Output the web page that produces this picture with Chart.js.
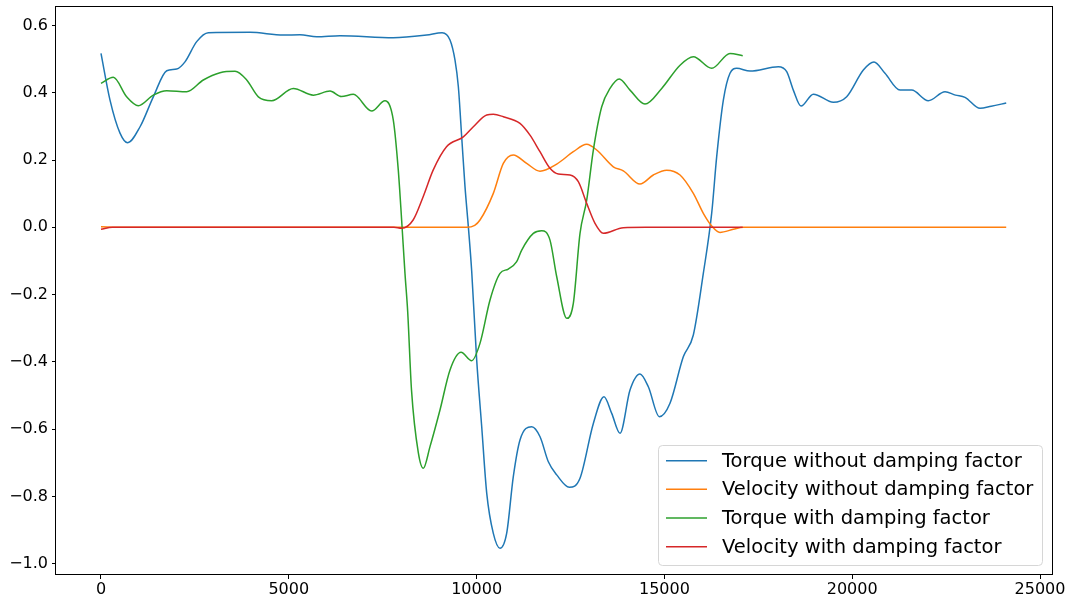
<!DOCTYPE html>
<html><head><meta charset="utf-8">
<script src="https://cdn.jsdelivr.net/npm/chart.js@4/dist/chart.umd.min.js"></script>
<style>html,body{margin:0;padding:0;background:#fff}#wrap{width:1075px;height:603px;position:relative}</style>
</head><body><div id="wrap"><canvas id="c"></canvas></div>
<script>
const seriesLabels = ["Torque without damping factor","Velocity without damping factor","Torque with damping factor","Velocity with damping factor"];
const seriesColors = ["#1f77b4","#ff7f0e","#2ca02c","#d62728"];
const xTickValues = [0,5000,10000,15000,20000,25000];
const yTickValues = [-1.0,-0.8,-0.6,-0.4,-0.2,0.0,0.2,0.4,0.6];

const torqueNoDamping = [[0,0.517],[240,0.378],[506,0.28],[710,0.2515],[1040,0.299],[1393,0.388],[1750,0.4655],[2015,0.4706],[2236,0.492],[2548,0.552],[2857,0.5785],[3967,0.5797],[4854,0.5716],[5298,0.5726],[5742,0.5666],[6363,0.5696],[7782,0.5637],[8670,0.5716],[9081,0.5785],[9292,0.557],[9425,0.497],[9514,0.418],[9603,0.269],[9691,0.121],[9780,0.002],[9869,-0.13],[10002,-0.394],[10136,-0.593],[10269,-0.79],[10445,-0.91],[10623,-0.954],[10800,-0.91],[10977,-0.741],[11155,-0.632],[11467,-0.5927],[11689,-0.6225],[11910,-0.697],[12133,-0.736],[12469,-0.773],[12753,-0.746],[13108,-0.583],[13392,-0.5036],[13597,-0.553],[13818,-0.6124],[14084,-0.4837],[14350,-0.436],[14572,-0.474],[14865,-0.563],[15149,-0.523],[15503,-0.385],[15770,-0.32],[16036,-0.137],[16259,0.042],[16392,0.21],[16569,0.378],[16746,0.458],[16925,0.4726],[17280,0.4646],[18033,0.4774],[18256,0.4626],[18432,0.408],[18637,0.3606],[18965,0.396],[19498,0.3716],[19853,0.388],[20296,0.4676],[20580,0.4914],[20873,0.4578],[21273,0.408],[21584,0.408],[22026,0.3763],[22471,0.403],[22750,0.393],[23003,0.3865],[23403,0.3537],[23700,0.36],[24100,0.3695]];
const velocityNoDamping = [[0,0.002],[500,0],[9736,0],[9950,0.006],[10090,0.0217],[10445,0.101],[10711,0.19],[10977,0.215],[11333,0.190],[11688,0.167],[12133,0.188],[12575,0.2248],[12931,0.2467],[13197,0.2298],[13640,0.18],[13906,0.168],[14350,0.1287],[14705,0.1555],[15061,0.170],[15416,0.1555],[15770,0.101],[16036,0.0416],[16259,0.004],[16480,-0.015],[16835,-0.006],[17101,0],[24100,0]];
const torqueDamping = [[0,0.428],[328,0.446],[683,0.388],[993,0.3615],[1393,0.393],[1750,0.406],[2281,0.403],[2724,0.438],[3168,0.4596],[3568,0.4637],[3879,0.438],[4189,0.388],[4544,0.3763],[5120,0.413],[5653,0.393],[6097,0.405],[6400,0.389],[6718,0.3953],[7207,0.3457],[7561,0.3763],[7782,0.319],[7915,0.170],[8004,0.0217],[8093,-0.137],[8165,-0.25],[8267,-0.484],[8448,-0.67],[8581,-0.7165],[8759,-0.652],[9025,-0.543],[9292,-0.424],[9585,-0.3716],[9869,-0.3966],[10090,-0.345],[10357,-0.216],[10623,-0.137],[10844,-0.124],[11067,-0.102],[11201,-0.0675],[11510,-0.018],[11733,-0.010],[11954,-0.038],[12133,-0.147],[12402,-0.2706],[12575,-0.226],[12753,-0.018],[12931,0.081],[13108,0.2298],[13331,0.3585],[13552,0.413],[13800,0.441],[14084,0.408],[14483,0.3665],[14928,0.413],[15416,0.482],[15770,0.507],[16259,0.4726],[16746,0.517],[17085,0.510]];
const velocityDamping = [[0,-0.006],[300,0],[7800,0],[8004,-0.003],[8310,0.0217],[8577,0.091],[8843,0.170],[9199,0.2396],[9646,0.269],[9913,0.299],[10269,0.334],[10445,0.336],[10711,0.3288],[11155,0.309],[11421,0.274],[11687,0.2248],[11954,0.1754],[12175,0.1584],[12487,0.1555],[12708,0.1356],[12931,0.0713],[13152,0.0119],[13374,-0.0178],[13906,-0.001],[14500,0],[17085,0]];

const seriesData = [torqueNoDamping, velocityNoDamping, torqueDamping, velocityDamping];

const datasets = seriesData.map((arr, i) => ({
  label: seriesLabels[i],
  data: arr.map(p => ({x: p[0], y: p[1]})),
  borderColor: seriesColors[i],
  backgroundColor: seriesColors[i],
  borderWidth: 1.5,
  pointRadius: 0,
  fill: false,
  cubicInterpolationMode: 'monotone',
  order: 3 - i
}));

const frameAndLegend = {
  id: 'frameAndLegend',
  afterDraw(chart) {
    const ctx = chart.ctx, a = chart.chartArea;
    ctx.save();
    ctx.strokeStyle = '#000';
    ctx.lineWidth = 1;
    ctx.strokeRect(Math.round(a.left) - 0.5, Math.round(a.top) + 0.5, Math.round(a.right - a.left) + 1, Math.round(a.bottom - a.top) - 1);
    const bx = 658.5, by = 445.5, bw = 384, bh = 120, r = 4;
    ctx.beginPath();
    ctx.moveTo(bx + r, by);
    ctx.lineTo(bx + bw - r, by); ctx.arcTo(bx + bw, by, bx + bw, by + r, r);
    ctx.lineTo(bx + bw, by + bh - r); ctx.arcTo(bx + bw, by + bh, bx + bw - r, by + bh, r);
    ctx.lineTo(bx + r, by + bh); ctx.arcTo(bx, by + bh, bx, by + bh - r, r);
    ctx.lineTo(bx, by + r); ctx.arcTo(bx, by, bx + r, by, r);
    ctx.closePath();
    ctx.fillStyle = 'rgba(255,255,255,0.8)';
    ctx.fill();
    ctx.strokeStyle = '#d6d6d6';
    ctx.stroke();
    ctx.font = '19.5px "DejaVu Sans"';
    ctx.textBaseline = 'middle';
    ctx.textAlign = 'left';
    const rows = [460.7, 489.3, 518, 546.7];
    chart.data.datasets.forEach((ds, i) => {
      ctx.strokeStyle = ds.borderColor;
      ctx.lineWidth = 1.5;
      ctx.beginPath();
      ctx.moveTo(666, rows[i]); ctx.lineTo(707, rows[i]);
      ctx.stroke();
      ctx.fillStyle = '#000';
      ctx.fillText(ds.label, 722, rows[i] + 1);
    });
    ctx.restore();
  }
};

const fmtY = v => {
  if (Math.abs(v) < 1e-9) v = 0;
  return v.toFixed(1).replace('-', '\u2212');
};

new Chart(document.getElementById('c'), {
  type: 'line',
  data: { datasets },
  options: {
    responsive: true,
    maintainAspectRatio: false,
    animation: false,
    devicePixelRatio: 1,
    layout: { padding: { top: 6, right: 23, left: 0, bottom: 0 } },
    plugins: { legend: { display: false }, tooltip: { enabled: false } },
    scales: {
      x: {
        type: 'linear',
        min: -1198, max: 25319,
        afterFit(s) { s.height = 28; s.paddingLeft = 0; s.paddingRight = 0; },
        afterBuildTicks(s) { s.ticks = xTickValues.map(v => ({value: v})); },
        ticks: { color: '#000', font: { family: 'DejaVu Sans', size: 16 }, padding: 1, maxRotation: 0, autoSkip: false, callback: v => String(v) },
        grid: { drawOnChartArea: false, drawTicks: true, tickLength: 4, tickColor: '#000', tickWidth: 1 },
        border: { display: false }
      },
      y: {
        type: 'linear',
        min: -1.0336, max: 0.658,
        afterFit(s) { s.width = 56; s.paddingTop = 0; s.paddingBottom = 0; },
        afterBuildTicks(s) { s.ticks = yTickValues.map(v => ({value: v})); },
        ticks: { color: '#000', font: { family: 'DejaVu Sans', size: 16 }, padding: 4, autoSkip: false, callback: v => fmtY(v) },
        grid: { drawOnChartArea: false, drawTicks: true, tickLength: 4, tickColor: '#000', tickWidth: 1 },
        border: { display: false }
      }
    }
  },
  plugins: [frameAndLegend]
});
</script></body></html>
